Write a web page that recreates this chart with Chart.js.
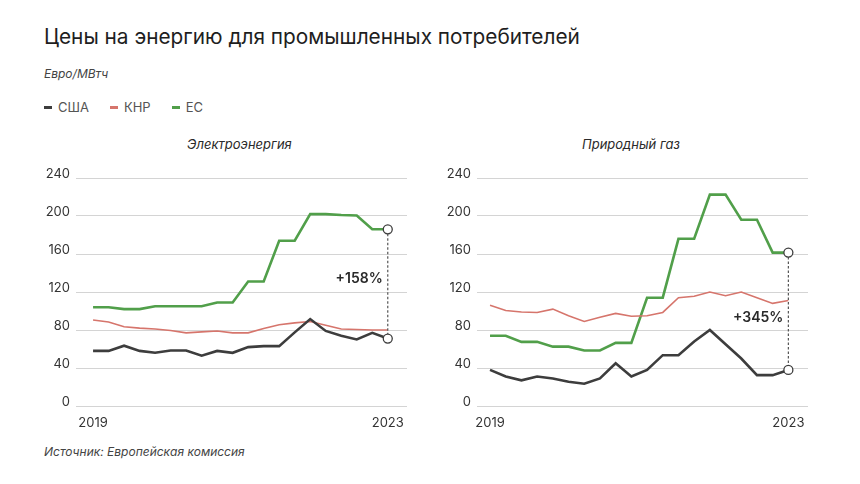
<!DOCTYPE html>
<html>
<head>
<meta charset="utf-8">
<script src="https://cdn.jsdelivr.net/npm/chart.js@4"></script>
<style>
  body { margin: 0; background: #fff; font-family: Inter, "Noto Sans", sans-serif; color: #222; }
  #page { position: relative; width: 860px; height: 484px; overflow: hidden; }
  .abs { position: absolute; white-space: nowrap; }
  #title { left: 44px; top: 24px; font-size: 20.8px; color: #1e1e1e; }
  #unit { left: 44px; top: 66px; font-size: 12px; font-style: italic; color: #444; }
  #legend { left: 44px; top: 99px; font-size: 13px; color: #555; display: flex; }
  #legend span.item { display: flex; align-items: center; margin-right: 21px; }
  #legend i { display: inline-block; width: 8px; height: 3px; margin-right: 6px; }
  .sub { top: 136px; font-size: 13px; font-style: italic; color: #2a2a2a; }
  #source { left: 44px; top: 444px; font-size: 12px; font-style: italic; color: #444; }
  canvas { position: absolute; }
</style>
</head>
<body>
<div id="page">
  <div id="title" class="abs">Цены на энергию для промышленных потребителей</div>
  <div id="unit" class="abs">Евро/МВтч</div>
  <div id="legend" class="abs"></div>
  <div class="abs sub" style="left:187px">Электроэнергия</div>
  <div class="abs sub" style="left:582px">Природный газ</div>
  <div style="position:absolute;left:30px;top:160px;width:390px;height:280px"><canvas id="power"></canvas></div>
  <div style="position:absolute;left:430px;top:160px;width:390px;height:280px"><canvas id="gas"></canvas></div>
  <div id="source" class="abs">Источник: Европейская комиссия</div>
</div>
<script>
// 20 quarterly points, 2019 .. 2023
const periods = ['2019','','','','','','','','','','','','','','','','','','','2023'];
const seriesNames = ['США', 'КНР', 'ЕС'];
const seriesColors = ['#3d3d3d', '#d6756c', '#519f4a'];
const seriesWidths = [2.6, 1.6, 2.6];
const yTicks = [0, 40, 80, 120, 160, 200, 240];

// Электроэнергия
const powerUS = [58, 58, 63.5, 58, 56, 58.5, 58.5, 53, 58, 56, 62, 63, 63, 77.5, 91.5, 79, 74, 70, 77, 71];
const powerCN = [90.5, 88.5, 83.5, 82, 81, 79.5, 77, 78, 79, 77, 77, 81.5, 85.5, 87.5, 89, 85, 81, 80.5, 80, 80];
const powerEU = [104, 104, 102, 102, 105, 105, 105, 105, 109, 109, 131, 131, 174, 174, 202, 202, 201, 200.5, 186, 186];

// Природный газ
const gasUS = [38, 31, 27, 31, 29, 25.5, 23.5, 29, 45, 31, 38, 53.5, 53.5, 68, 80, 65, 50, 32.5, 32.5, 38];
const gasCN = [106, 100.5, 99, 98.5, 102, 95, 89, 93.5, 97.5, 94.5, 95, 98.5, 114, 115.5, 120, 116, 120, 114, 108, 111];
const gasEU = [74, 74, 67.5, 67.5, 62.5, 62.5, 58.5, 58.5, 66.5, 66.5, 114, 114, 176, 176, 222.5, 222.5, 196, 196, 161.5, 161.5];

const legend = document.getElementById('legend');
seriesNames.forEach((name, i) => {
  const item = document.createElement('span');
  item.className = 'item';
  item.innerHTML = '<i style="background:' + seriesColors[i] + '"></i>' + name;
  legend.appendChild(item);
});

// dotted line between the last EU and US points, with open circles and a % label
const gapNote = {
  id: 'gapNote',
  afterDatasetsDraw(chart, args, opts) {
    const ctx = chart.ctx;
    const top = chart.getDatasetMeta(opts.from).data.at(-1);
    const bottom = chart.getDatasetMeta(opts.to).data.at(-1);
    ctx.save();
    ctx.strokeStyle = '#555';
    ctx.lineWidth = 1.2;
    ctx.setLineDash([2.5, 2]);
    ctx.beginPath();
    ctx.moveTo(top.x, top.y);
    ctx.lineTo(bottom.x, bottom.y);
    ctx.stroke();
    ctx.setLineDash([]);
    [top, bottom].forEach(p => {
      ctx.beginPath();
      ctx.arc(p.x, p.y, 4.5, 0, Math.PI * 2);
      ctx.fillStyle = '#fff';
      ctx.fill();
      ctx.strokeStyle = '#3d3d3d';
      ctx.lineWidth = 1.3;
      ctx.stroke();
    });
    ctx.font = '600 14px Inter, sans-serif';
    ctx.fillStyle = '#2a2a2a';
    ctx.textAlign = 'right';
    ctx.textBaseline = 'middle';
    ctx.fillText(opts.text, top.x - 5, chart.scales.y.getPixelForValue(opts.at));
    ctx.restore();
  }
};

function makeChart(id, values, xMin, xMax, yWidth, padRight, note) {
  new Chart(document.getElementById(id), {
    type: 'line',
    data: {
      datasets: values.map((vals, i) => ({
        label: seriesNames[i],
        data: vals.map((v, k) => ({ x: k, y: v })),
        borderColor: seriesColors[i],
        borderWidth: seriesWidths[i],
        pointRadius: 0,
        tension: 0,
        fill: false
      }))
    },
    options: {
      responsive: true,
      maintainAspectRatio: false,
      animation: false,
      layout: { padding: { top: 18, right: padRight, bottom: 0, left: 0 } },
      scales: {
        x: {
          type: 'linear',
          min: xMin,
          max: xMax,
          grid: { display: false, drawTicks: false },
          border: { display: false },
          afterBuildTicks: s => { s.ticks = [{ value: 0 }, { value: periods.length - 1 }]; },
          afterFit: s => { s.height = 34; },
          ticks: {
            padding: 9,
            maxRotation: 0,
            autoSkip: false,
            color: '#333',
            font: { family: 'Inter', size: 13 },
            callback: v => periods[v]
          }
        },
        y: {
          min: 0,
          max: 240,
          afterBuildTicks: s => { s.ticks = yTicks.map(v => ({ value: v })); },
          afterFit: s => { s.width = yWidth; },
          grid: { color: '#d4d4d4', lineWidth: 1, drawTicks: false },
          border: { display: false },
          ticks: {
            padding: 6,
            labelOffset: -4,
            color: '#333',
            font: { family: 'Inter', size: 13 }
          }
        }
      },
      plugins: {
        legend: { display: false },
        tooltip: { enabled: false },
        gapNote: note
      }
    },
    plugins: [gapNote]
  });
}

makeChart('power', [powerUS, powerCN, powerEU], -1.1, 20.24, 46, 13, { from: 2, to: 0, text: '+158%', at: 134 });
makeChart('gas', [gasUS, gasCN, gasEU], -0.83, 20.25, 47, 12, { from: 2, to: 0, text: '+345%', at: 92.5 });
</script>
</body>
</html>
